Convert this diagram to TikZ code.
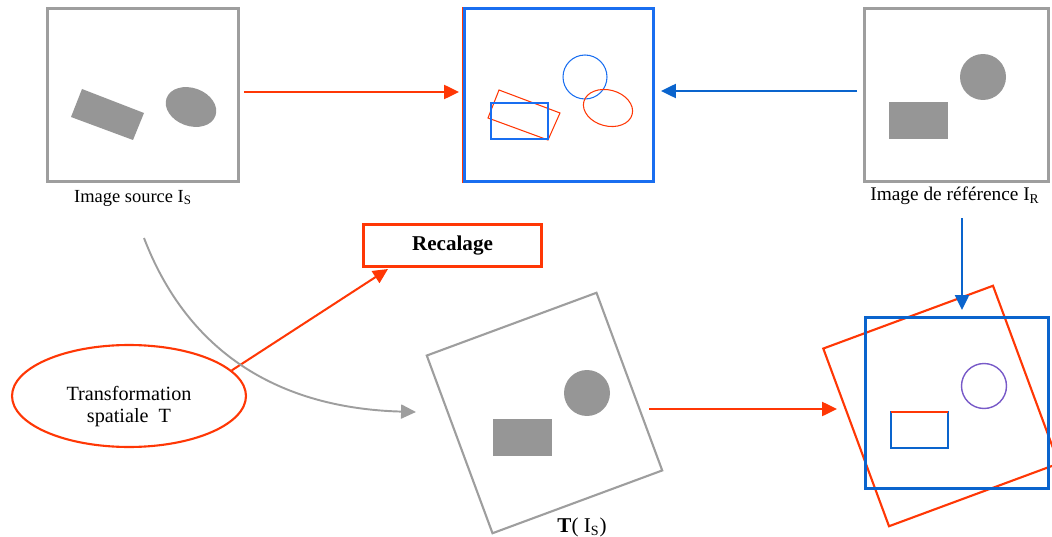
\documentclass[tikz,border=0pt]{standalone}
\usepackage{fontspec}
\setmainfont{Liberation Serif}
\usetikzlibrary{arrows.meta,shapes.geometric}
\definecolor{rred}{RGB}{255,55,5}
\definecolor{bblue}{RGB}{25,110,240}
\definecolor{dblue}{RGB}{10,100,205}
\definecolor{gline}{RGB}{158,158,158}
\definecolor{gfill}{RGB}{150,150,150}
\definecolor{mixc}{RGB}{120,90,200}
\begin{document}
\begin{tikzpicture}[x=0.02cm,y=-0.02cm,
  imgbox/.style={draw=gline, line width=1.7pt, minimum width=3.82cm, minimum height=3.46cm, inner sep=0pt},
  tsq/.style={line width=1.2pt, rotate=20.3, minimum width=3.62cm, minimum height=3.79cm, inner sep=0pt},
  arr/.style={-{Triangle[length=8.5pt,width=8pt]}, line width=1.15pt},
  hair/.style={line width=0.6pt},
  lbl/.style={inner sep=0pt, font=\fontsize{10.5}{12}\selectfont}]
\useasboundingbox (0,0) rectangle (1052,537);

% top row boxes
\node[imgbox] (src) at (143,95) {};
\node[imgbox, draw=bblue, minimum width=3.78cm] (mid) at (559,95) {};
\node[imgbox, minimum width=3.68cm] (ref) at (956.5,95) {};
\draw[rred, line width=0.5pt] (462.6,7) -- (462.6,183);

% source content
\fill[gfill] (82,89) -- (144,113) -- (133,140) -- (71,117) -- cycle;
\fill[gfill, rotate around={-20:(191,107)}] (191,107) ellipse [x radius=0.52cm, y radius=0.38cm];

% superposition content
\draw[rred, hair] (499,90) -- (560,113) -- (548,140) -- (488,118) -- cycle;
\draw[bblue, hair] (491,103) rectangle (548,139);
\draw[bblue, hair] (585,77) circle [radius=0.44cm];
\draw[rred, hair, rotate around={-15:(608,108)}] (608,108) ellipse [x radius=0.5cm, y radius=0.36cm];

% reference content
\fill[gfill] (983,77) circle [radius=0.46cm];
\fill[gfill] (889,102) rectangle (948,139);

% labels
\node[lbl] (srcl) at (133,198) {Image source I\textsubscript{S}};
\node[lbl, font=\fontsize{11}{13}\selectfont] (refl) at (955,196) {Image de référence I\textsubscript{R}};

% transformed image
\node[tsq, draw=gline] (ts) at (544.5,413) {};
\fill[gfill] (587,393) circle [radius=0.46cm];
\fill[gfill] (493,419) rectangle (552,456);
\node[lbl, font=\fontsize{12}{14}\selectfont] (tsl) at (582,527) {\textbf{T}( I\textsubscript{S})};

% result
\node[tsq, draw=rred] (rsq) at (941,406) {};
\node[imgbox, draw=dblue, minimum width=3.66cm, minimum height=3.42cm] (res) at (957,403) {};
\draw[dblue, hair] (891,412) rectangle (948,448);
\draw[rred, hair] (891,412) -- (948,412);
\draw[mixc, line width=0.8pt] (984,386) circle [radius=0.45cm];

% transformation and recalage
\node[ellipse, draw=rred, line width=1.2pt, minimum width=4.68cm, minimum height=2.04cm, align=center, inner sep=0pt, font=\fontsize{11.5}{12.5}\selectfont] (tr) at (129,396) {\raisebox{-0.32cm}[0.7cm][0.7cm]{\begin{tabular}{@{}c@{}}Transformation\\spatiale\ \ T\end{tabular}}};
\node[draw=rred, line width=1.7pt, minimum width=3.56cm, minimum height=0.84cm, inner sep=0pt, font=\bfseries\fontsize{12}{14}\selectfont] (recal) at (452.5,245.5) {Recalage};

% connectors
\draw[arr, rred] ([shift={(4,-3)}]src.east) -- ([shift={(-4,-3)}]mid.west);
\draw[arr, dblue] ([shift={(-6,-4)}]ref.west) -- ([shift={(6,-4)}]mid.east);
\coordinate (dtop) at (962,218);
\draw[arr, dblue] (dtop) -- ([shift={(5,-6)}]res.north);
\draw[arr, rred] ([shift={(104.5,-4)}]ts.center) -- ([shift={(-27,6)}]res.west);
\draw[arr, rred] (tr.14) -- ([shift={(26,1)}]recal.south west);
\coordinate (cs) at (144,238);
\coordinate (ce) at (416,412);
\draw[arr, gline, line width=1.1pt] (cs) .. controls (185,345) and (270,408) .. (ce);
\end{tikzpicture}
\end{document}
